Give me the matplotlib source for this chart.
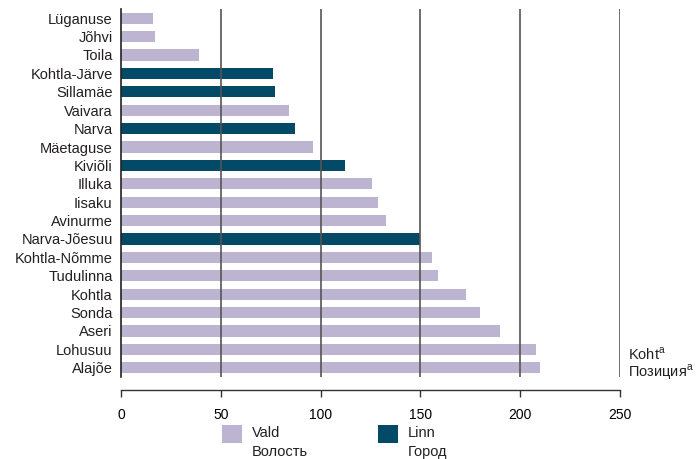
import numpy as np
import matplotlib
matplotlib.use('Agg')
import matplotlib.pyplot as plt
from matplotlib.patches import Rectangle

plt.rcParams['font.family'] = ['Liberation Sans', 'DejaVu Sans']
plt.rcParams['mathtext.fontset'] = 'custom'
plt.rcParams['mathtext.rm'] = 'Liberation Sans'

names = ['Lüganuse', 'Jõhvi', 'Toila', 'Kohtla-Järve', 'Sillamäe', 'Vaivara', 'Narva',
         'Mäetaguse', 'Kiviõli', 'Illuka', 'Iisaku', 'Avinurme', 'Narva-Jõesuu',
         'Kohtla-Nõmme', 'Tudulinna', 'Kohtla', 'Sonda', 'Aseri', 'Lohusuu', 'Alajõe']
rank = [16, 17, 39, 76, 77, 84, 87, 96, 112, 126, 129, 133, 150, 156, 159, 173, 180, 190, 208, 210]
is_town = [0, 0, 0, 1, 1, 0, 1, 0, 1, 0, 0, 0, 1, 0, 0, 0, 0, 0, 0, 0]
xticks = [0, 50, 100, 150, 200, 250]

c_vald = '#bdb4d1'
c_linn = '#034a66'
txt = '#231f20'

fig = plt.figure(figsize=(6.98, 4.59), dpi=100)
ax = fig.add_axes([121/698, 1 - 377/459, (620 - 121)/698, (377 - 9)/459])

y = np.arange(len(names))
colors = [c_linn if t else c_vald for t in is_town]
ax.barh(y, rank, height=0.6, color=colors, zorder=1)
ax.set_ylim(len(names) - 0.5, -0.5)
ax.set_xlim(0, 250)

for v in xticks[1:]:
    ax.axvline(v, color='#555555', lw=1.2, zorder=2)

ax.set_yticks(y)
ax.set_yticklabels(names, fontsize=10.5, color=txt)
ax.tick_params(axis='y', length=0, pad=6)
ax.set_xticks(xticks)
ax.set_xticklabels([str(v) for v in xticks], fontsize=10.5, color=txt)
ax.tick_params(axis='x', direction='out', length=5, width=1, color='#333333', pad=8)

for s in ['top', 'right']:
    ax.spines[s].set_visible(False)
ax.spines['left'].set_color('#222222')
ax.spines['left'].set_linewidth(1.2)
ax.spines['bottom'].set_position(('outward', 9))
ax.spines['bottom'].set_color('#333333')
ax.spines['bottom'].set_linewidth(1)

fig.text(628/698, 1 - 354/459, 'Koht$^{\\mathrm{a}}$', fontsize=10.5, color=txt, va='center', ha='left')
fig.text(628/698, 1 - 372/459, 'Позиция$^{\\mathrm{a}}$', fontsize=10.5, color=txt, va='center', ha='left')

# legend
leg = [(222, c_vald, 'Vald', 'Волость'), (378, c_linn, 'Linn', 'Город')]
for x0, c, t1, t2 in leg:
    fig.add_artist(Rectangle((x0/698, 1 - 443/459), 20/698, 18/459,
                             transform=fig.transFigure, color=c, lw=0))
    fig.text((x0 + 30)/698, 1 - 433/459, t1, fontsize=10.5, color=txt, va='center')
    fig.text((x0 + 30)/698, 1 - 452/459, t2, fontsize=10.5, color=txt, va='center')

fig.savefig('out.png', dpi=100)
